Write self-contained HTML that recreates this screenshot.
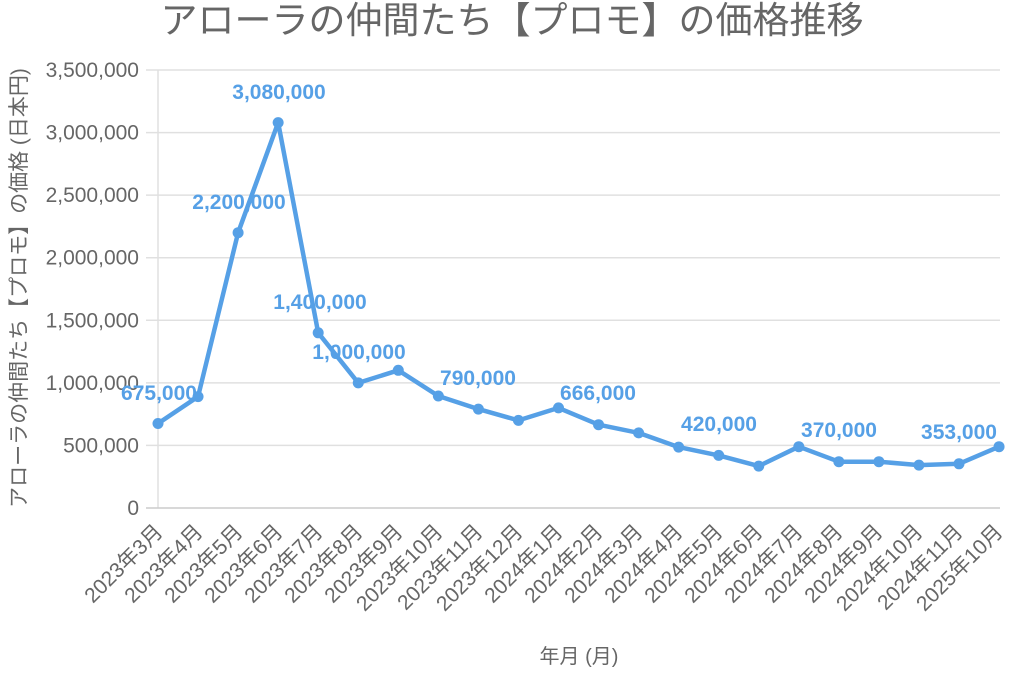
<!DOCTYPE html>
<html><head><meta charset="utf-8"><style>
html,body{margin:0;padding:0;background:#fff;}
svg text{font-family:"Liberation Sans","Noto Sans CJK JP",sans-serif;}
</style></head><body>
<svg width="1024" height="676" viewBox="0 0 1024 676" xmlns="http://www.w3.org/2000/svg">
<rect width="1024" height="676" fill="#fff"/>
<text x="512" y="33" text-anchor="middle" font-size="37" fill="#666">アローラの仲間たち【プロモ】の価格推移</text>
<g stroke="#e0e0e0" stroke-width="1.5">
<line x1="146" y1="70" x2="1000" y2="70"/>
<line x1="146" y1="132.6" x2="1000" y2="132.6"/>
<line x1="146" y1="195.1" x2="1000" y2="195.1"/>
<line x1="146" y1="257.7" x2="1000" y2="257.7"/>
<line x1="146" y1="320.3" x2="1000" y2="320.3"/>
<line x1="146" y1="382.9" x2="1000" y2="382.9"/>
<line x1="146" y1="445.4" x2="1000" y2="445.4"/>
<line x1="158" y1="70" x2="158" y2="508"/>
</g>
<line x1="146" y1="508" x2="1000" y2="508" stroke="#ccc" stroke-width="1.5"/>
<g font-size="21" fill="#666" text-anchor="end">
<text x="139" y="77">3,500,000</text>
<text x="139" y="139.6">3,000,000</text>
<text x="139" y="202.1">2,500,000</text>
<text x="139" y="264.7">2,000,000</text>
<text x="139" y="327.3">1,500,000</text>
<text x="139" y="389.9">1,000,000</text>
<text x="139" y="452.4">500,000</text>
<text x="139" y="515">0</text>
</g>
<text transform="translate(26,288) rotate(-90)" text-anchor="middle" font-size="21" fill="#666">アローラの仲間たち【プロモ】の価格 (日本円)</text>
<text x="579" y="663" text-anchor="middle" font-size="20" fill="#666">年月 (月)</text>
<g font-size="21" fill="#666" text-anchor="end">
<text transform="translate(164,533) rotate(-45)">2023年3月</text>
<text transform="translate(204,533) rotate(-45)">2023年4月</text>
<text transform="translate(244,533) rotate(-45)">2023年5月</text>
<text transform="translate(284,533) rotate(-45)">2023年6月</text>
<text transform="translate(324,533) rotate(-45)">2023年7月</text>
<text transform="translate(364,533) rotate(-45)">2023年8月</text>
<text transform="translate(404,533) rotate(-45)">2023年9月</text>
<text transform="translate(444,533) rotate(-45)">2023年10月</text>
<text transform="translate(484,533) rotate(-45)">2023年11月</text>
<text transform="translate(524,533) rotate(-45)">2023年12月</text>
<text transform="translate(564,533) rotate(-45)">2024年1月</text>
<text transform="translate(604,533) rotate(-45)">2024年2月</text>
<text transform="translate(644,533) rotate(-45)">2024年3月</text>
<text transform="translate(684,533) rotate(-45)">2024年4月</text>
<text transform="translate(724,533) rotate(-45)">2024年5月</text>
<text transform="translate(764,533) rotate(-45)">2024年6月</text>
<text transform="translate(804,533) rotate(-45)">2024年7月</text>
<text transform="translate(844,533) rotate(-45)">2024年8月</text>
<text transform="translate(884,533) rotate(-45)">2024年9月</text>
<text transform="translate(924,533) rotate(-45)">2024年10月</text>
<text transform="translate(964,533) rotate(-45)">2024年11月</text>
<text transform="translate(1004,533) rotate(-45)">2025年10月</text>
</g>
<polyline fill="none" stroke="#56a0e6" stroke-width="4.5" stroke-linejoin="round" points="158,423.5 198.05,396.6 238.1,232.7 278.15,122.6 318.2,332.8 358.25,382.9 398.3,370.3 438.35,396 478.4,409.1 518.45,420.4 558.5,407.9 598.55,424.7 638.6,432.9 678.65,447.1 718.7,455.4 758.75,466.1 798.8,446.7 838.85,461.7 878.9,461.7 918.95,465.1 959,463.8 999.05,446.7"/>
<g fill="#56a0e6">
<circle cx="158" cy="423.5" r="5.5"/><circle cx="198.05" cy="396.6" r="5.5"/><circle cx="238.1" cy="232.7" r="5.5"/><circle cx="278.15" cy="122.6" r="5.5"/><circle cx="318.2" cy="332.8" r="5.5"/><circle cx="358.25" cy="382.9" r="5.5"/><circle cx="398.3" cy="370.3" r="5.5"/><circle cx="438.35" cy="396" r="5.5"/><circle cx="478.4" cy="409.1" r="5.5"/><circle cx="518.45" cy="420.4" r="5.5"/><circle cx="558.5" cy="407.9" r="5.5"/><circle cx="598.55" cy="424.7" r="5.5"/><circle cx="638.6" cy="432.9" r="5.5"/><circle cx="678.65" cy="447.1" r="5.5"/><circle cx="718.7" cy="455.4" r="5.5"/><circle cx="758.75" cy="466.1" r="5.5"/><circle cx="798.8" cy="446.7" r="5.5"/><circle cx="838.85" cy="461.7" r="5.5"/><circle cx="878.9" cy="461.7" r="5.5"/><circle cx="918.95" cy="465.1" r="5.5"/><circle cx="959" cy="463.8" r="5.5"/><circle cx="999.05" cy="446.7" r="5.5"/>
</g>
<g font-size="21" font-weight="bold" fill="#56a0e6" text-anchor="middle">
<text x="159" y="400">675,000</text>
<text x="239" y="209">2,200,000</text>
<text x="279" y="99">3,080,000</text>
<text x="320" y="309">1,400,000</text>
<text x="359" y="359">1,000,000</text>
<text x="478" y="385">790,000</text>
<text x="598" y="400">666,000</text>
<text x="719" y="431">420,000</text>
<text x="839" y="437">370,000</text>
<text x="959" y="439">353,000</text>
</g>
</svg>
</body></html>
